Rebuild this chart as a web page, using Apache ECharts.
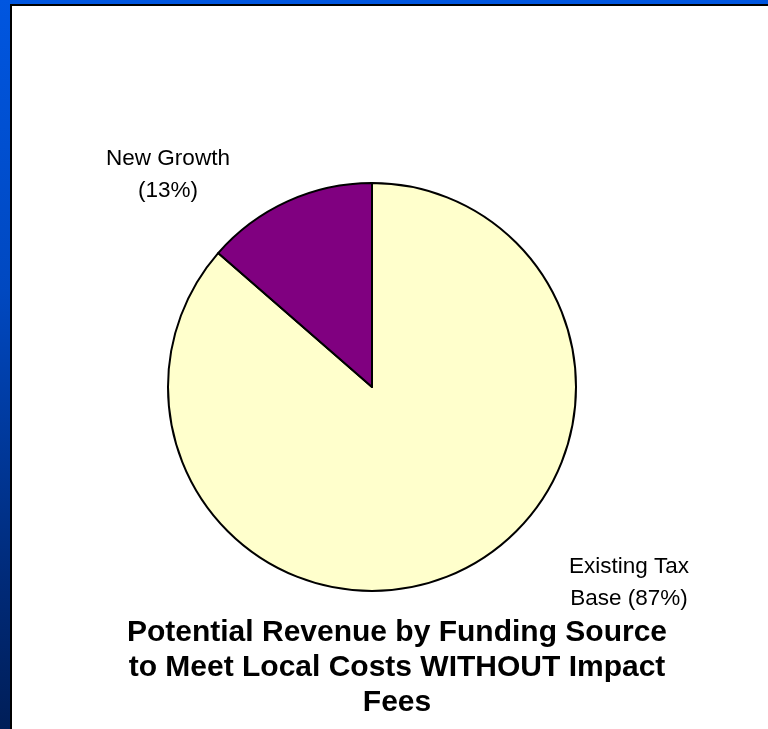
<!DOCTYPE html>
<html>
<head>
<meta charset="utf-8">
<script src="https://cdn.jsdelivr.net/npm/echarts@6/dist/echarts.min.js"></script>
<style>
html,body{margin:0;padding:0;width:768px;height:729px;overflow:hidden;}
#bg{position:absolute;left:0;top:0;width:768px;height:729px;background:linear-gradient(to bottom,#0056e0 0%,#0048c0 40%,#002a78 80%,#001e58 100%);}
#panel{position:absolute;left:10px;top:4px;width:758px;height:725px;background:#ffffff;border-left:2px solid #000;border-top:2px solid #000;box-sizing:border-box;}
#chart{position:absolute;left:0;top:0;width:768px;height:729px;}
</style>
</head>
<body>
<div id="bg"></div>
<div id="panel"></div>
<div id="chart"></div>
<script>
const categories = ["Existing Tax\nBase (87%)", "New Growth\n(13%)"];
const values = [86.4, 13.6];
const colors = ["#FFFFCC", "#800080"];
const titleText = "Potential Revenue by Funding Source\nto Meet Local Costs WITHOUT Impact\nFees";

const chart = echarts.init(document.getElementById('chart'), null, {renderer: 'canvas'});
const labelPos = [
  {x: 629, y: 583},
  {x: 168, y: 175}
];
chart.setOption({
  backgroundColor: 'transparent',
  animation: false,
  title: {
    text: titleText,
    left: 392,
    top: 610,
    textAlign: 'center',
    textStyle: {
      fontFamily: 'Liberation Sans, Arial, sans-serif',
      fontWeight: 'bold',
      fontSize: 30,
      lineHeight: 35,
      color: '#000'
    }
  },
  series: [{
    type: 'pie',
    center: [372, 387],
    radius: 204,
    startAngle: 90,
    clockwise: true,
    data: categories.map((c, i) => ({name: c, value: values[i], itemStyle: {color: colors[i]}})),
    itemStyle: {borderColor: '#000', borderWidth: 2},
    label: {
      show: true,
      position: 'outside',
      formatter: '{b}',
      fontFamily: 'Liberation Sans, Arial, sans-serif',
      fontSize: 22.5,
      lineHeight: 32,
      color: '#000',
      align: 'center'
    },
    labelLine: {show: false},
    labelLayout: function (params) {
      const p = labelPos[params.dataIndex];
      return {x: p.x, y: p.y, align: 'center', verticalAlign: 'middle'};
    },
    emphasis: {disabled: true}
  }]
});
</script>
</body>
</html>
